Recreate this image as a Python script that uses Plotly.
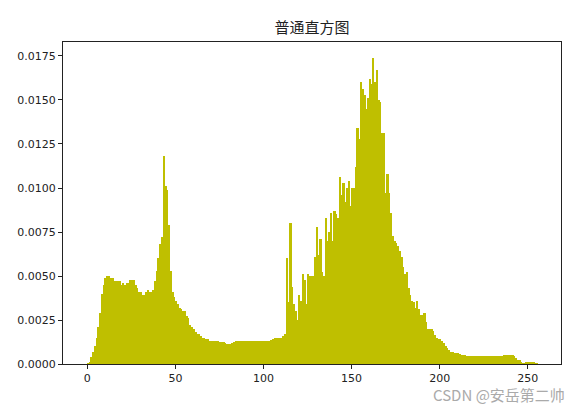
import plotly.graph_objects as go

# Gray-level histogram (256 bins, density)
bins = list(range(256))
density = [
    # 0-9
    0.00005, 0.00013, 0.0004, 0.0007, 0.0010, 0.0015, 0.0021, 0.0029, 0.0040, 0.0045,
    # 10-19
    0.0049, 0.0050, 0.0050, 0.0049, 0.0049, 0.0047, 0.0047, 0.0047, 0.0047, 0.0045,
    # 20-29
    0.0046, 0.0045, 0.0046, 0.0046, 0.0048, 0.0048, 0.0048, 0.0045, 0.0043, 0.0041,
    # 30-39
    0.0041, 0.0039, 0.0039, 0.0041, 0.0042, 0.0041, 0.0041, 0.0042, 0.0047, 0.0053,
    # 40-49
    0.0060, 0.0068, 0.0072, 0.0118, 0.0101, 0.0099, 0.0079, 0.0053, 0.0041, 0.0038,
    # 50-59
    0.0036, 0.0034, 0.0032, 0.0031, 0.0030, 0.0030, 0.0027, 0.0026, 0.0022, 0.0021,
    # 60-69
    0.0020, 0.0018, 0.0017, 0.0017, 0.0016, 0.0015, 0.0015, 0.0014, 0.0014, 0.0013,
    # 70-79
    0.0013, 0.0013, 0.0013, 0.0013, 0.0013, 0.00125, 0.00125, 0.00125, 0.0012, 0.00115,
    # 80-89
    0.00115, 0.00115, 0.0012, 0.00125, 0.0013, 0.0013, 0.0013, 0.0013, 0.0013, 0.0013,
    # 90-99
    0.0013, 0.0013, 0.0013, 0.0013, 0.0013, 0.00133, 0.00133, 0.00133, 0.00133, 0.00133,
    # 100-109
    0.00133, 0.00133, 0.00133, 0.00133, 0.00135, 0.0014, 0.0015, 0.0015, 0.0015, 0.0015,
    # 110-119
    0.0015, 0.0016, 0.0017, 0.0060, 0.0035, 0.0080, 0.0044, 0.0034, 0.0030, 0.0025,
    # 120-129
    0.0039, 0.0036, 0.0051, 0.0048, 0.0034, 0.0051, 0.0050, 0.0050, 0.0050, 0.0061,
    # 130-139
    0.0078, 0.0062, 0.0071, 0.0052, 0.0050, 0.0083, 0.0070, 0.0075, 0.0086, 0.0070,
    # 140-149
    0.0087, 0.0085, 0.0083, 0.0106, 0.0096, 0.0103, 0.0092, 0.0100, 0.0104, 0.0090,
    # 150-159
    0.0100, 0.0100, 0.0112, 0.0134, 0.0128, 0.0160, 0.0156, 0.0153, 0.0145, 0.0151,
    # 160-169
    0.0162, 0.0159, 0.0174, 0.0160, 0.0167, 0.0150, 0.0149, 0.0131, 0.0131, 0.0097,
    # 170-179
    0.0108, 0.0097, 0.0086, 0.0073, 0.0070, 0.0069, 0.0067, 0.0064, 0.0061, 0.0055,
    # 180-189
    0.0051, 0.0052, 0.0043, 0.0039, 0.0036, 0.0035, 0.0032, 0.0036, 0.0031, 0.0028,
    # 190-199
    0.0028, 0.0029, 0.0024, 0.0020, 0.0020, 0.0020, 0.0019, 0.00165, 0.0015, 0.0014,
    # 200-209
    0.0014, 0.0013, 0.0012, 0.0010, 0.0009, 0.0008, 0.0007, 0.00066, 0.0006, 0.0006,
    # 210-219
    0.0006, 0.00055, 0.0005, 0.0005, 0.0005, 0.00048, 0.00045, 0.00045, 0.00045, 0.00045,
    # 220-229
    0.00043, 0.00045, 0.00045, 0.00043, 0.00045, 0.00046, 0.00045, 0.00045, 0.00044, 0.00045,
    # 230-239
    0.00045, 0.00046, 0.00046, 0.00047, 0.00048, 0.00048, 0.00050, 0.00052, 0.00053, 0.00053,
    # 240-249
    0.00052, 0.00050, 0.00044, 0.00035, 0.00025, 0.00020, 0.00012, 0.00002, 0.00002, 0.00008,
    # 250-255
    0.00008, 0.00008, 0.00008, 0.00006, 0.00004, 0.00003,
]

x_ticks = [0, 50, 100, 150, 200, 250]
y_ticks = [0.0, 0.0025, 0.005, 0.0075, 0.01, 0.0125, 0.015, 0.0175]
title_text = "普通直方图"
watermark = "CSDN @安岳第二帅"

fig = go.Figure(
    go.Bar(
        x=[b + 0.5 for b in bins],
        y=density,
        width=1,
        marker=dict(color="#bfbf00", line=dict(width=0)),
    )
)

axis_common = dict(
    showline=True, linecolor="#222222", linewidth=1, mirror=True,
    ticks="outside", ticklen=4, tickcolor="#222222", tickwidth=1,
    showgrid=False, zeroline=False,
    tickfont=dict(family="DejaVu Sans", size=11, color="#222222"),
)

fig.update_layout(
    width=581, height=412,
    margin=dict(l=63, r=20, t=42, b=48),
    paper_bgcolor="white", plot_bgcolor="white",
    bargap=0, showlegend=False,
    title=dict(text=title_text, x=0.537, xanchor="center", y=1 - 28 / 412, yanchor="middle",
               font=dict(family="Noto Sans CJK SC", size=15, color="#222222")),
    xaxis=dict(range=[-13.8, 268.9], tickvals=x_ticks, **axis_common),
    yaxis=dict(range=[0, 0.018295], tickvals=y_ticks, tickformat=".4f", **axis_common),
    annotations=[dict(
        text=watermark, xref="paper", yref="paper", x=1.012, y=-0.096,
        xanchor="right", yanchor="middle", showarrow=False,
        font=dict(family="Noto Sans CJK SC", size=15, color="#aaaaaa"),
    )],
)

fig.write_html(
    "out.html",
    config={"displayModeBar": False},
    post_script="document.body.style.margin='0px';document.body.style.overflow='hidden';",
)
